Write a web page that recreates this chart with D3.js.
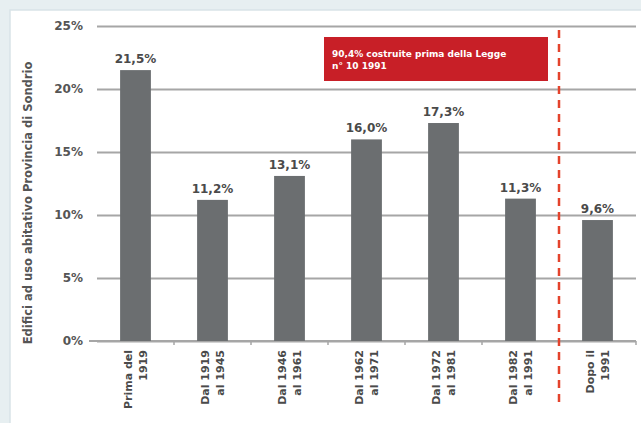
<!DOCTYPE html>
<html>
<head>
<meta charset="utf-8">
<script src="https://cdn.jsdelivr.net/npm/d3@7/dist/d3.min.js"></script>
<style>
  html, body { margin: 0; padding: 0; background: #e7eff1; }
  svg { display: block; }
</style>
</head>
<body>
<svg id="chart" width="641" height="423"></svg>
<script>
// Periods of construction (two lines each for the rotated axis labels)
const categories = [
  ["Prima del", "1919"],
  ["Dal 1919", "al 1945"],
  ["Dal 1946", "al 1961"],
  ["Dal 1962", "al 1971"],
  ["Dal 1972", "al 1981"],
  ["Dal 1982", "al 1991"],
  ["Dopo il", "1991"]
];
// Share of residential buildings per period (%)
const values = [21.5, 11.2, 13.1, 16.0, 17.3, 11.3, 9.6];
const yTicks = [0, 5, 10, 15, 20, 25];
const yTitle = "Edifici ad uso abitativo Provincia di Sondrio";
const noteLines = ["90,4% costruite prima della Legge", "n° 10 1991"];
const splitAfter = 5; // index of last period before the law

(function draw() {
  const svg = d3.select("#chart");
  const font = "'DejaVu Sans', Verdana, sans-serif";

  // white card
  svg.append("rect")
    .attr("x", 10).attr("y", 10).attr("width", 640).attr("height", 420)
    .attr("fill", "#ffffff")
    .attr("stroke", "#d9e4e8").attr("stroke-width", 1.5);

  const plotLeft = 97, plotRight = 636, plotTop = 26, plotBottom = 341;

  const x = d3.scaleBand()
    .domain(d3.range(categories.length))
    .range([plotLeft, plotRight])
    .paddingInner(0.6)
    .paddingOuter(0.3);

  const y = d3.scaleLinear().domain([0, 25]).range([plotBottom, plotTop]);

  // horizontal gridlines and y tick labels
  const yAxis = d3.axisLeft(y)
    .tickValues(yTicks)
    .tickSize(-(plotRight - plotLeft))
    .tickPadding(14)
    .tickFormat(d => d + "%");

  const gy = svg.append("g")
    .attr("transform", `translate(${plotLeft},0)`)
    .call(yAxis);
  gy.select(".domain").remove();
  gy.selectAll(".tick line")
    .attr("stroke", "#a6a6a6").attr("stroke-width", 2);
  gy.selectAll(".tick text")
    .attr("fill", "#555").attr("font-family", font)
    .attr("font-weight", "bold").attr("font-size", 12);

  // x axis baseline with small ticks between periods
  svg.append("line")
    .attr("x1", plotLeft - 8).attr("x2", plotRight)
    .attr("y1", y(0)).attr("y2", y(0))
    .attr("stroke", "#a6a6a6").attr("stroke-width", 2);
  const boundaryX = i => x(i) + x.bandwidth() / 2 + x.step() / 2;
  svg.selectAll(".xtick")
    .data(d3.range(categories.length))
    .join("line")
    .attr("class", "xtick")
    .attr("x1", boundaryX).attr("x2", boundaryX)
    .attr("y1", y(0)).attr("y2", y(0) + 4)
    .attr("stroke", "#a6a6a6").attr("stroke-width", 1.5);

  // bars
  svg.selectAll(".bar")
    .data(values)
    .join("rect")
    .attr("class", "bar")
    .attr("x", (d, i) => x(i))
    .attr("width", x.bandwidth())
    .attr("y", d => y(d))
    .attr("height", d => y(0) - y(d))
    .attr("fill", "#6b6e70");

  // value labels
  svg.selectAll(".val")
    .data(values)
    .join("text")
    .attr("class", "val")
    .attr("x", (d, i) => x(i) + x.bandwidth() / 2)
    .attr("y", d => y(d) - 7)
    .attr("text-anchor", "middle")
    .attr("font-family", font).attr("font-weight", "bold").attr("font-size", 12)
    .attr("fill", "#4a4a4a")
    .text(d => d.toFixed(1).replace(".", ",") + "%");

  // rotated category labels
  const lab = svg.selectAll(".cat")
    .data(categories)
    .join("text")
    .attr("class", "cat")
    .attr("transform", (d, i) => `translate(${x(i) + x.bandwidth() / 2},${y(0) + 9}) rotate(-90)`)
    .attr("text-anchor", "end")
    .attr("font-family", font).attr("font-weight", "bold").attr("font-size", 11)
    .attr("fill", "#4a4a4a");
  lab.selectAll("tspan")
    .data(d => d)
    .join("tspan")
    .attr("x", 0)
    .attr("y", (d, j) => j === 0 ? -3.5 : 11.5)
    .text(d => d);

  // y axis title
  svg.append("text")
    .attr("transform", `translate(32,203) rotate(-90)`)
    .attr("text-anchor", "middle")
    .attr("font-family", font).attr("font-weight", "bold").attr("font-size", 11.5)
    .attr("fill", "#555")
    .text(yTitle);

  // dashed separator at the 1991 law
  const sepX = boundaryX(splitAfter);
  svg.append("line")
    .attr("x1", sepX).attr("x2", sepX)
    .attr("y1", 30).attr("y2", 408)
    .attr("stroke", "#e4432c").attr("stroke-width", 2.5)
    .attr("stroke-dasharray", "8,6");

  // note box
  svg.append("rect")
    .attr("x", 324).attr("y", 37).attr("width", 224).attr("height", 44)
    .attr("fill", "#c81f27");
  svg.selectAll(".note")
    .data(noteLines)
    .join("text")
    .attr("class", "note")
    .attr("x", 332)
    .attr("y", (d, i) => 57 + i * 12)
    .attr("font-family", font).attr("font-weight", "bold").attr("font-size", 9)
    .attr("fill", "#ffffff")
    .text(d => d);
})();
</script>
</body>
</html>
